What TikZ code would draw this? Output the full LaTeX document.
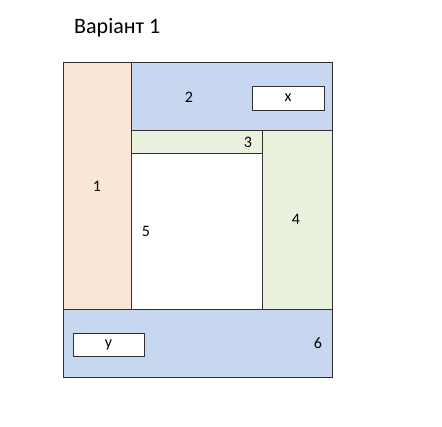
\documentclass[tikz,border=0pt]{standalone}
\usepackage{fontspec}
\setmainfont{Carlito}
\definecolor{cOrange}{HTML}{FBE5D6}
\definecolor{cBlue}{HTML}{C6D7EF}
\definecolor{cGreen}{HTML}{EAF1DE}
\definecolor{cLine}{HTML}{303030}
\begin{document}
\begin{tikzpicture}[x=1pt,y=-1pt,
  region/.style={draw=cLine,line width=0.9pt},
  lbl/.style={font=\fontsize{16}{18}\selectfont,inner sep=0pt},
  inbox/.style={draw=cLine,fill=white,line width=0.9pt,inner sep=0pt,font=\fontsize{16}{18}\selectfont}]
\useasboundingbox (0,0) rectangle (442,426);
\node[font=\fontsize{22}{26}\selectfont,anchor=west,inner sep=0pt] (title) at (74,28) {Варіант 1};
% regions
\path[region,fill=cOrange] (63,62) rectangle (131,309);
\path[region,fill=cBlue] (131,62) rectangle (332,130);
\path[region,fill=cGreen] (131,130) rectangle (262,153);
\path[region,fill=white] (131,153) rectangle (262,309);
\path[region,fill=cGreen] (262,130) rectangle (332,309);
\path[region,fill=cBlue] (63,309) rectangle (332,377);
% boxes
\node[inbox,minimum width=72pt,minimum height=24pt] (x) at (288,98) {x};
\node[inbox,minimum width=71pt,minimum height=23pt] (y) at (108.5,344.5) {y};
% labels
\node[lbl] (l1) at (97,186) {1};
\node[lbl] (l2) at (189,97) {2};
\node[lbl] (l3) at (248,142) {3};
\node[lbl] (l4) at (296,219) {4};
\node[lbl] (l5) at (146,231) {5};
\node[lbl] (l6) at (318,343) {6};
\end{tikzpicture}
\end{document}
